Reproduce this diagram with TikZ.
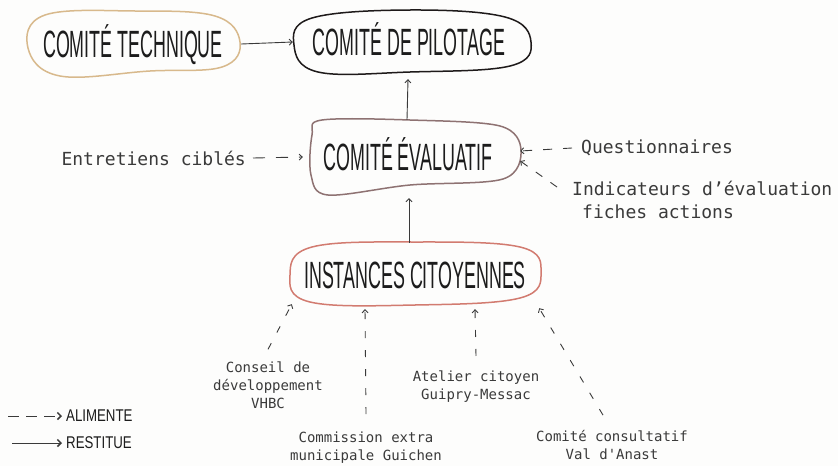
\documentclass[tikz,border=0pt]{standalone}
\usepackage{fontspec}
\usepackage{graphicx}
\usetikzlibrary{arrows.meta}
\newfontfamily\handfont{Liberation Sans}
\newfontfamily\labfont{DejaVu Sans Mono}
\newcommand\handtxt[1]{\scalebox{0.47}[1]{#1}}
\newcommand\legtxt[1]{\scalebox{0.78}[1]{#1}}
\definecolor{bgc}{HTML}{FDFDFC}
\definecolor{tanc}{HTML}{D8B98C}
\definecolor{pilc}{HTML}{1E1A1A}
\definecolor{evac}{HTML}{8E7272}
\definecolor{insc}{HTML}{D27B70}
\definecolor{titlec}{HTML}{1C1C1C}
\definecolor{labc}{HTML}{3A3A3A}
\definecolor{linec}{HTML}{3A3A3A}
\begin{document}
\begin{tikzpicture}[x=1pt,y=-1pt,
  blobtitle/.style={font=\handfont\fontsize{38}{38}\selectfont, text=titlec, inner sep=0pt,
    text height=27pt, text depth=0pt},
  biglab/.style={font=\labfont\fontsize{18}{23}\selectfont, text=labc, inner sep=1pt},
  smalllab/.style={font=\labfont\fontsize{14}{18}\selectfont, text=labc, align=center, inner sep=2pt},
  legendtxt/.style={font=\handfont\fontsize{17}{17}\selectfont, text=titlec, inner sep=0pt, anchor=west},
  restitue/.style={draw=linec, line width=0.9pt, -{Straight Barb[length=3pt,width=6pt]}},
  alimente/.style={draw=linec, line width=0.9pt, dash pattern=on 7pt off 12pt,
    -{Straight Barb[length=3pt,width=6pt]}},
  legarrow/.style={draw=linec, line width=0.9pt, -{Straight Barb[length=3.5pt,width=7pt,line width=1.5pt]}},
  blobline/.style={line width=1.5pt, line join=round}
]
\useasboundingbox (0,0) rectangle (838,466);
\fill[bgc] (0,0) rectangle (838,466);

% blobs
\draw[blobline, draw=tanc] plot[smooth cycle, tension=0.65] coordinates
  {(45,15) (135,11) (215,16) (240,42) (222,67) (150,71) (60,76) (28,48)};
\draw[blobline, draw=pilc] plot[smooth cycle, tension=0.65] coordinates
  {(312,18) (410,10) (505,17) (531,42) (510,66) (410,72) (318,72) (294,45)};
\draw[blobline, draw=evac] plot[smooth cycle, tension=0.55] coordinates
  {(322,120) (410,120) (500,126) (521,150) (503,179) (410,185) (328,195) (311,175) (312,135)};
\draw[blobline, draw=insc] plot[smooth cycle, tension=0.65] coordinates
  {(312,247) (415,242) (520,247) (541,272) (520,298) (415,305) (310,302) (290,275)};

% titles
\node[blobtitle, minimum width=212pt, minimum height=64pt] (tech) at (133,44) {\handtxt{COMITÉ TECHNIQUE}};
\node[blobtitle, minimum width=232pt, minimum height=64pt] (pilot) at (409,42) {\handtxt{COMITÉ DE PILOTAGE}};
\node[blobtitle, minimum width=200pt, minimum height=76pt] (evalu) at (408,157) {\handtxt{COMITÉ ÉVALUATIF}};
\node[blobtitle, minimum width=250pt, minimum height=64pt] (inst) at (415,275) {\handtxt{INSTANCES CITOYENNES}};

% labels
\node[biglab, anchor=east] (entre) at (247,158) {Entretiens ciblés};
\node[biglab, anchor=west] (quest) at (580,148) {Questionnaires};
\node[biglab, anchor=west, align=left] (indic) at (571,200) {Indicateurs d’évaluation\\\hspace*{10pt}fiches actions};
\node[smalllab] (conseil) at (268,385) {Conseil de\\développement\\VHBC};
\node[smalllab] (comm) at (366,448) {Commission extra\\municipale Guichen};
\node[smalllab] (atel) at (476,387) {Atelier citoyen\\Guipry-Messac};
\node[smalllab] (cons) at (612,445) {Comité consultatif\\Val d{\char"27}Anast};

% legend
\node[legendtxt] (alim) at (66,416) {\legtxt{ALIMENTE}};
\node[legendtxt] (rest) at (66,443) {\legtxt{RESTITUE}};
\coordinate (alimS) at (8,416);
\coordinate (restS) at (12,443);
\draw[legarrow, dash pattern=on 11pt off 7pt] (alimS) -- ([xshift=-4pt]alim.west);
\draw[legarrow] (restS) -- ([xshift=-4pt]rest.west);

% restitue connectors
\draw[restitue] ([xshift=2pt]tech.east) -- (pilot.west);
\draw[restitue] ([xshift=-1pt,yshift=-1pt]evalu.north) -- ([xshift=-1pt,yshift=-5pt]pilot.south);
\draw[restitue] ([xshift=-6pt]inst.north) -- ([xshift=1pt,yshift=-3pt]evalu.south);

% alimente connectors
\draw[alimente, dash pattern=on 12pt off 11pt] ([xshift=6pt]entre.east) -- ([xshift=-5pt]evalu.west);
\draw[alimente, dash pattern=on 9pt off 11pt] ([xshift=-8pt]quest.west) -- ([shift={(12pt,6pt)}]evalu.east);
\draw[alimente, dash pattern=on 8pt off 10pt] ([shift={(-14pt,13pt)}]indic.west) -- ([shift={(12pt,-4pt)}]evalu.east);
\draw[alimente] ([yshift=10pt]conseil.north) -- ([shift={(2pt,3pt)}]inst.south west);
\draw[alimente] ([yshift=16pt]comm.north) -- ([shift={(-50pt,-2pt)}]inst.south);
\draw[alimente] ([yshift=13pt]atel.north) -- ([shift={(60pt,-2pt)}]inst.south);
\draw[alimente] ([shift={(-9pt,13pt)}]cons.north) -- ([shift={(-1pt,-1pt)}]inst.south east);
\end{tikzpicture}
\end{document}
